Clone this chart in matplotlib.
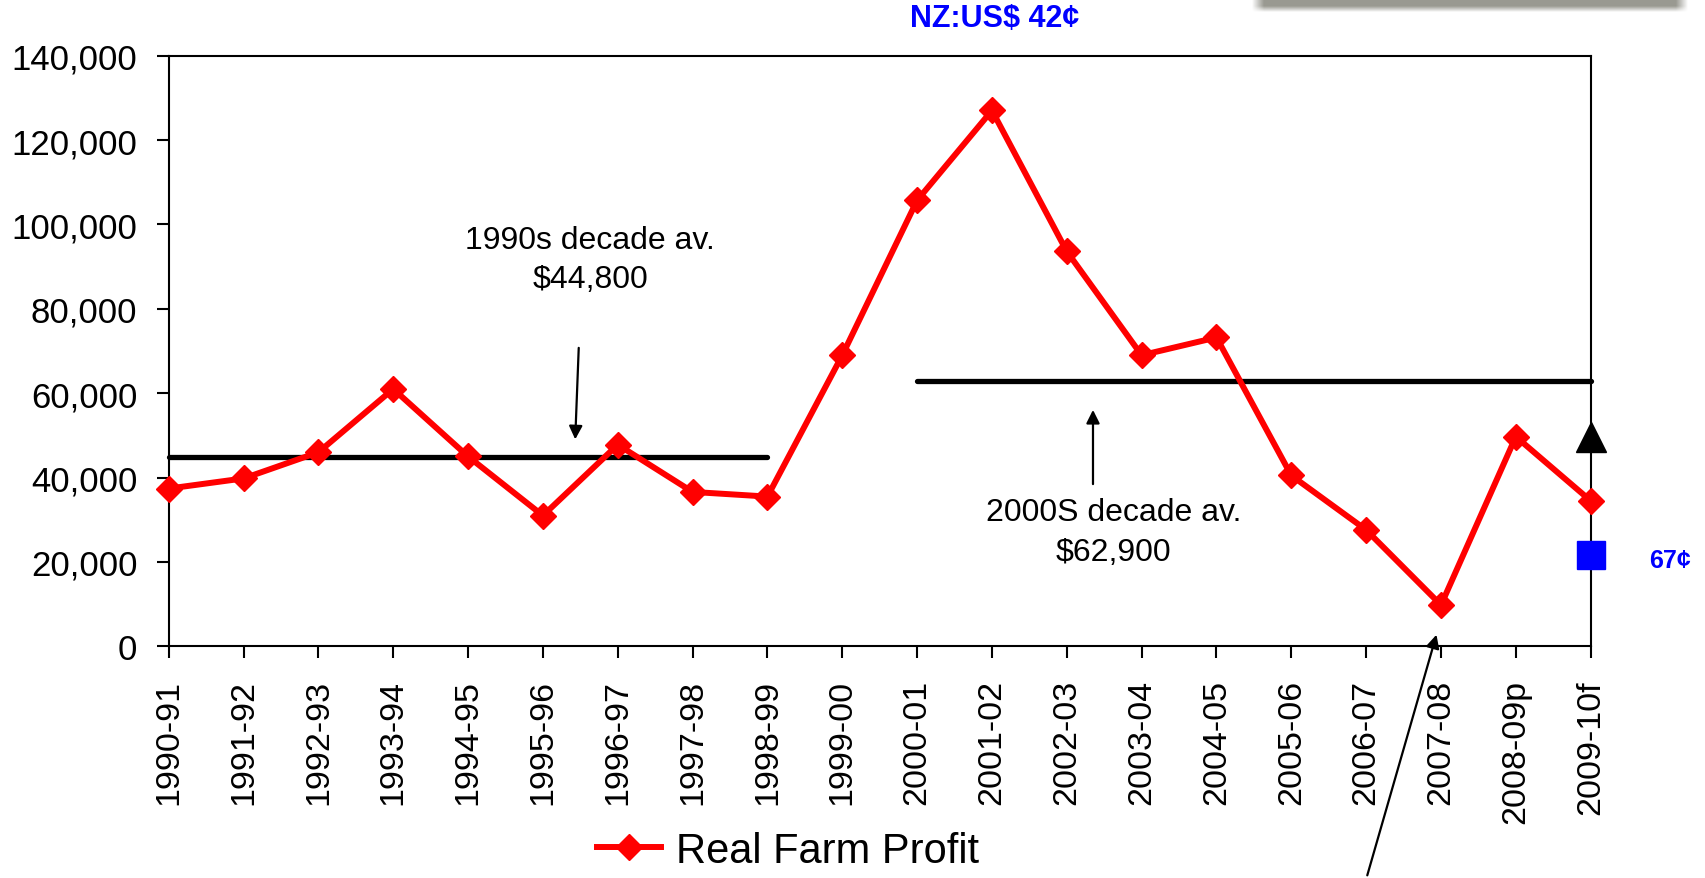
import matplotlib
matplotlib.use("Agg")
import numpy as np
import matplotlib.pyplot as plt

# Font setup (Arial-like)
plt.rcParams['font.family'] = ['Liberation Sans', 'DejaVu Sans']

# Chart data
seasons = ['1990-91', '1991-92', '1992-93', '1993-94', '1994-95', '1995-96',
           '1996-97', '1997-98', '1998-99', '1999-00', '2000-01', '2001-02',
           '2002-03', '2003-04', '2004-05', '2005-06', '2006-07', '2007-08',
           '2008-09p', '2009-10f']
real_farm_profit = [37400, 39800, 46000, 61000, 45000, 31000, 47800, 36600,
                    35500, 69000, 105700, 127000, 93600, 69000, 73200, 40500,
                    27600, 9800, 49700, 34500]

# Decade averages: (first season, last season, value)
decade_1990s = ('1990-91', '1998-99', 44800)
decade_2000s = ('2000-01', '2009-10f', 62900)

# Forecast alternatives for 2009-10
forecast_high = 49700   # black triangle
forecast_low = 21600    # blue square

y_ticks = [0, 20000, 40000, 60000, 80000, 100000, 120000, 140000]

x = list(range(len(seasons)))

fig = plt.figure(figsize=(17.06, 8.79), dpi=100)
ax = fig.add_axes([0.0989, 0.2635, 0.8335, 0.6721])

# Decade average lines
for start, end, value in (decade_1990s, decade_2000s):
    ax.plot([seasons.index(start), seasons.index(end)], [value, value],
            color='black', linewidth=3.8, solid_capstyle='round', zorder=2,
            clip_on=False)

# Main series
ax.plot(x, real_farm_profit, color='#ff0000', linewidth=4.3, marker='D',
        markersize=13, markeredgecolor='#ff0000', label='Real Farm Profit',
        zorder=3, clip_on=False)

# 2009-10 alternative markers
last = len(seasons) - 1
ax.plot([last], [forecast_high], marker='^', markersize=21, color='black',
        linestyle='none', zorder=4, clip_on=False)
ax.plot([last], [forecast_low], marker='s', markersize=20, color='#0000ff',
        linestyle='none', zorder=4, clip_on=False)

# Axes formatting
ax.set_xlim(0, last)
ax.set_ylim(0, 140000)
ax.set_yticks(y_ticks)
ax.set_yticklabels([f"{v:,}" for v in y_ticks], fontsize=25)
ax.set_xticks(x)
ax.set_xticklabels(seasons, rotation=90, fontsize=24.5)
ax.tick_params(axis='y', length=8.5, width=1.5, pad=14, right=False)
ax.tick_params(axis='x', length=8.5, width=1.5, pad=15, top=False)
for spine in ax.spines.values():
    spine.set_linewidth(1.5)

# Annotations
arrow = dict(arrowstyle='-|>', color='black', lw=1.6, mutation_scale=20)
ax.text(5.63, 99800, '1990s decade av.\n$44,800', ha='center', va='top',
        fontsize=23, linespacing=1.4)
ax.annotate('', xy=(5.43, 48400), xytext=(5.48, 71400), arrowprops=arrow)
ax.text(12.62, 35500, '2000S decade av.\n$62,900', ha='center', va='top',
        fontsize=23, linespacing=1.45)
ax.annotate('', xy=(12.35, 56700), xytext=(12.35, 37800), arrowprops=arrow)
ax.annotate('', xy=(16.95, 3400), xytext=(0.801, 0.0),
            textcoords='figure fraction', arrowprops=arrow)

ax.text(20.06, 20500, '67\u00a2', ha='center', va='center', fontsize=18,
        fontweight='bold', color='#0000ff', clip_on=False)
fig.text(0.583, 0.978, 'NZ:US$ 42\u00a2', ha='center', va='center',
         fontsize=22, fontweight='bold', color='#0000ff')

# Legend below the chart
fig.legend(loc='center', bbox_to_anchor=(0.462, 0.031), frameon=False,
           fontsize=30, handlelength=1.55, handletextpad=0.36, borderpad=0)

# Grey blurred shadow of a cut-off box at top right
sx0, sx1, sy1 = 1245, 1695, 18          # shadow extent in pixels
cols = np.arange(sx0, sx1) + 0.5
rows = np.arange(0, sy1) + 0.5
fade_x = np.clip(np.minimum(cols - 1252, 1688 - cols) / 12.0, 0, 1)
fade_y = np.clip((13.0 - rows) / 6.0, 0, 1)
shade = np.outer(fade_y, fade_x)
rgba = np.zeros((len(rows), len(cols), 4))
rgba[..., :3] = np.array([0.60, 0.60, 0.57])
rgba[..., 3] = shade
shadow_ax = fig.add_axes([sx0 / 1706, 1 - sy1 / 879, (sx1 - sx0) / 1706, sy1 / 879])
shadow_ax.imshow(rgba, aspect='auto', interpolation='bilinear')
shadow_ax.axis('off')

fig.savefig('out.png', dpi=100)
